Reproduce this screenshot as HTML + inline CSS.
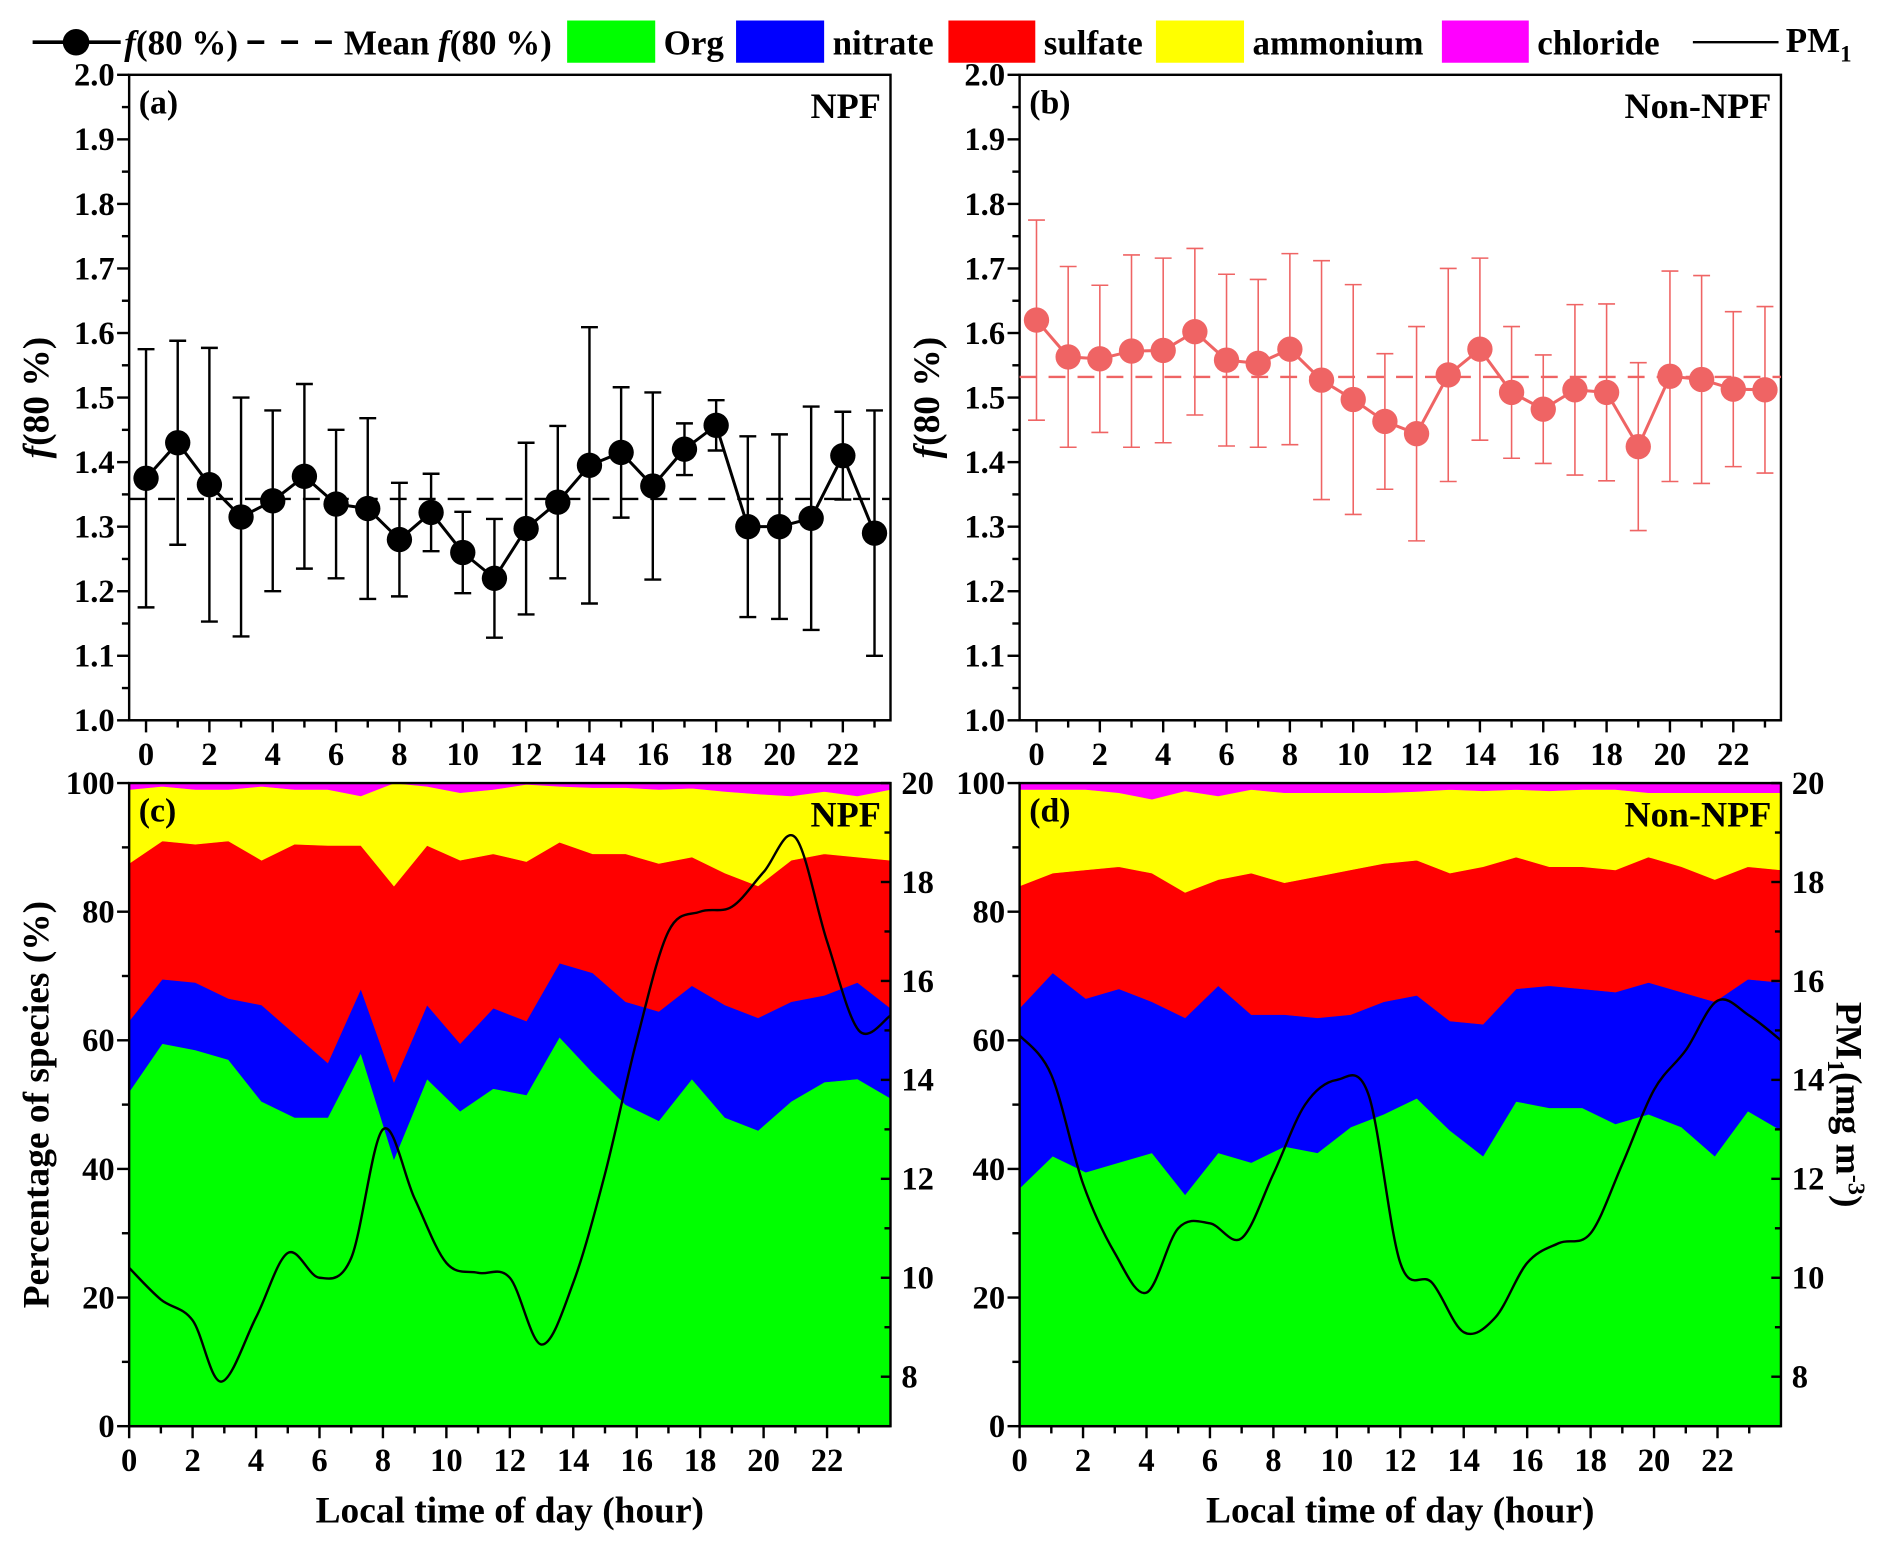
<!DOCTYPE html>
<html><head><meta charset="utf-8"><style>
html,body{margin:0;padding:0;background:#fff;}
svg{display:block;font-family:"Liberation Serif",serif;font-weight:bold;}
</style></head><body>
<svg id="fig" width="1892" height="1549" viewBox="0 0 1568 1283.8" xmlns="http://www.w3.org/2000/svg">
<g id="legend" font-size="29">
  <g>
    <line x1="27" y1="35" x2="100" y2="35" stroke="#000" stroke-width="3"/>
    <circle cx="63" cy="35" r="11" fill="#000"/>
    <text x="103" y="45"><tspan font-style="italic">f</tspan>(80 %)</text>
  </g>
  <g>
    <line x1="205" y1="35" x2="280" y2="35" stroke="#000" stroke-width="3" stroke-dasharray="14,14"/>
    <text x="285" y="45">Mean <tspan font-style="italic">f</tspan>(80 %)</text>
  </g>
  <g><rect x="470" y="17" width="73" height="35" fill="#00ff00"/><text x="550" y="45">Org</text></g>
  <g><rect x="610" y="17" width="73" height="35" fill="#0000ff"/><text x="690" y="45">nitrate</text></g>
  <g><rect x="786" y="17" width="72" height="35" fill="#ff0000"/><text x="865" y="45">sulfate</text></g>
  <g><rect x="958" y="17" width="73" height="35" fill="#ffff00"/><text x="1038" y="45">ammonium</text></g>
  <g><rect x="1195" y="17" width="72" height="35" fill="#ff00ff"/><text x="1274" y="45">chloride</text></g>
  <g><line x1="1403" y1="35" x2="1474" y2="35" stroke="#000" stroke-width="2"/><text x="1480" y="43">PM<tspan font-size="19" dy="8">1</tspan></text></g>
</g>
</svg>
<script>
// ---- data ----
const hours = [0,1,2,3,4,5,6,7,8,9,10,11,12,13,14,15,16,17,18,19,20,21,22,23];
const npfF80 = [1.375,1.43,1.365,1.315,1.34,1.378,1.335,1.328,1.28,1.322,1.26,1.22,1.297,1.338,1.395,1.415,1.363,1.42,1.457,1.30,1.30,1.313,1.41,1.29];
const npfErr = [0.20,0.158,0.212,0.185,0.14,0.143,0.115,0.14,0.088,0.06,0.063,0.092,0.133,0.118,0.214,0.101,0.145,0.04,0.039,0.14,0.143,0.173,0.068,0.19];
const npfMean = 1.343;
const nonF80 = [1.62,1.563,1.56,1.572,1.573,1.602,1.558,1.553,1.575,1.527,1.497,1.463,1.444,1.535,1.575,1.508,1.482,1.512,1.508,1.424,1.533,1.528,1.513,1.512];
const nonErr = [0.155,0.14,0.114,0.149,0.143,0.129,0.133,0.13,0.148,0.185,0.178,0.105,0.166,0.165,0.141,0.102,0.084,0.132,0.137,0.13,0.163,0.161,0.12,0.129];
const nonMean = 1.532;
// cumulative tops (%)
const npfOrg = [52,59.5,58.5,57,50.5,48,48,58,41.5,54,49,52.5,51.5,60.5,55,50,47.5,54,48,46,50.5,53.5,54,51];
const npfNit = [63,69.5,69,66.5,65.5,61,56.5,68,53.5,65.5,59.5,65,63,72,70.5,66,64.5,68.5,65.5,63.5,66,67,69,65];
const npfSul = [87.5,91,90.5,91,88,90.5,90.3,90.3,84,90.3,88,89,87.8,90.8,89,89,87.5,88.5,86,84,88,89,88.5,88];
const npfAmm = [99,99.5,99,99,99.5,99,99,98,100,99.5,98.5,99,99.8,99.5,99.3,99.3,99,99.2,98.7,98.3,98,98.7,98,99];
const nonOrg = [37,42,39.5,41,42.5,36,42.5,41,43.5,42.5,46.5,48.5,51,46,42,50.5,49.5,49.5,47,48.5,46.5,42,49,46];
const nonNit = [65,70.5,66.5,68,66,63.5,68.5,64,64,63.5,64,66,67,63,62.5,68,68.5,68,67.5,69,67.5,66,69.5,69];
const nonSul = [84,86,86.5,87,86,83,85,86,84.5,85.5,86.5,87.5,88,86,87,88.5,87,87,86.5,88.5,87,85,87,86.5];
const nonAmm = [99,99,99,98.5,97.5,98.8,98,99,98.5,98.5,98.5,98.5,98.7,99,98.8,99,98.8,99,99,98.5,98.5,98.5,98.5,98.5];
const pmHours = [0,1,2,2.9,4,5,6,7,8,9,10,11,12,13,14,15,16,17,18,19,20,21,22,23,24];
const npfPM = [10.2,9.56,9.14,7.9,9.2,10.5,10.0,10.4,13.0,11.6,10.3,10.1,10.0,8.65,9.9,12.1,14.8,17.0,17.4,17.5,18.2,18.9,16.8,15.0,15.3];
const nonPMHours = [0,1,2,3,4,5,6,7,8,9,10,11,12,13,14,15,16,17,18,19,20,21,22,23,24];
const nonPM = [14.9,14.1,11.9,10.5,9.7,11.0,11.1,10.8,12.1,13.5,14.0,13.7,10.3,9.9,8.9,9.2,10.3,10.7,10.9,12.3,13.8,14.6,15.6,15.3,14.8];
const xTicks = [0,2,4,6,8,10,12,14,16,18,20,22];
const fTicks = [1.0,1.1,1.2,1.3,1.4,1.5,1.6,1.7,1.8,1.9,2.0];
const pctTicks = [0,20,40,60,80,100];
const pmTicks = [8,10,12,14,16,18,20];

const NS="http://www.w3.org/2000/svg";
const svg=document.getElementById('fig');
function el(tag,attrs,parent,txt){const e=document.createElementNS(NS,tag);for(const k in attrs)e.setAttribute(k,attrs[k]);if(txt!==undefined)e.textContent=txt;(parent||svg).appendChild(e);return e;}

function smoothPath(pts){
  let d=`M${pts[0][0]},${pts[0][1]}`;
  for(let i=0;i<pts.length-1;i++){
    const p0=pts[Math.max(0,i-1)],p1=pts[i],p2=pts[i+1],p3=pts[Math.min(pts.length-1,i+2)];
    const c1=[p1[0]+(p2[0]-p0[0])/6,p1[1]+(p2[1]-p0[1])/6];
    const c2=[p2[0]-(p3[0]-p1[0])/6,p2[1]-(p3[1]-p1[1])/6];
    d+=` C${c1[0]},${c1[1]} ${c2[0]},${c2[1]} ${p2[0]},${p2[1]}`;
  }
  return d;
}

function xAxis(g,L,R,B,xs){
  el('line',{x1:L,y1:B,x2:R,y2:B,stroke:'#000','stroke-width':2},g);
  for(let h=0;h<=23;h++){
    const major=h%2===0;
    const t=el('line',{x1:xs(h),y1:B,x2:xs(h),y2:B+(major?10:6),stroke:'#000','stroke-width':2},g);
    
    
  }
  xTicks.forEach(h=>{
    const t=el('text',{x:xs(h),y:B+37,'text-anchor':'middle','font-size':27},g,String(h));
    
    
  });
}

function fPanel(name,L,R,T,B,vals,errs,mean,color,lab,tag,titleX){
  const g=el('g',{});
  
  
  const xs=h=>L+14+h*(R-L-14*2+ (R-L)/24*0)/23.5;
  const xsT=h=>L+14+h*26.25;
  const ys=v=>B-(v-1.0)*(B-T);
  el('rect',{x:L,y:T,width:R-L,height:B-T,fill:'none',stroke:'#000','stroke-width':2},g);
  xAxis(g,L,R,B,xsT);
  for(let i=0;i<=20;i++){const v=1+i*0.05;const major=i%2===0;
    el('line',{x1:L,y1:ys(v),x2:L-(major?10:6),y2:ys(v),stroke:'#000','stroke-width':2},g);}
  fTicks.forEach(v=>{const t=el('text',{x:L-12,y:ys(v)+9,'text-anchor':'end','font-size':27},g,v.toFixed(1));
    });
  const ml=el('line',{x1:L,y1:ys(mean),x2:R,y2:ys(mean),stroke:color,'stroke-width':2,'stroke-dasharray':'14,10'},g);
  
  const ew=color==='#000'?2:1.3;
  hours.forEach((h,i)=>{
    const x=xsT(h);
    el('line',{x1:x,y1:ys(vals[i]-errs[i]),x2:x,y2:ys(vals[i]+errs[i]),stroke:color,'stroke-width':ew},g);
    el('line',{x1:x-7,y1:ys(vals[i]-errs[i]),x2:x+7,y2:ys(vals[i]-errs[i]),stroke:color,'stroke-width':ew},g);
    el('line',{x1:x-7,y1:ys(vals[i]+errs[i]),x2:x+7,y2:ys(vals[i]+errs[i]),stroke:color,'stroke-width':ew},g);
  });
  el('polyline',{points:hours.map((h,i)=>`${xsT(h)},${ys(vals[i])}`).join(' '),fill:'none',stroke:color,'stroke-width':2.5},g);
  hours.forEach((h,i)=>{
    const c=el('circle',{cx:xsT(h),cy:ys(vals[i]),r:10.5,fill:color},g);
    
    
  });
  el('text',{x:L+8,y:T+32,'font-size':28},g,lab);
  el('text',{x:R-8,y:T+36,'text-anchor':'end','font-size':30},g,tag);
  const yt=el('text',{transform:`translate(${titleX},${(T+B)/2}) rotate(-90)`,'text-anchor':'middle','font-size':31},g);
  
  el('tspan',{'font-style':'italic'},yt,'f');el('tspan',{},yt,'(80 %)');
}

function areaPanel(name,L,R,T,B,org,nit,sul,amm,ph,pm,lab,tag,showLeftTitle,showRightTitle){
  const g=el('g',{});
  
  
  const xa=i=>L+i*(R-L)/23;
  const xsT=h=>L+h*(R-L)/24;
  const ys=v=>B-v/100*(B-T);
  const yr=v=>T+(20-v)*(B-T)/13;
  const layers=[[null,org,'#00ff00','area-org'],[org,nit,'#0000ff','area-nitrate'],[nit,sul,'#ff0000','area-sulfate'],[sul,amm,'#ffff00','area-ammonium'],[amm,'top','#ff00ff','area-chloride']];
  layers.forEach(([lo,hi,c,n])=>{
    const top=hi==='top'?hours.map(()=>100):hi;
    const bot=lo?lo:hours.map(()=>0);
    let pts=hours.map((h,i)=>`${xa(i)},${ys(top[i])}`);
    for(let i=hours.length-1;i>=0;i--)pts.push(`${xa(i)},${ys(bot[i])}`);
    const p=el('polygon',{points:pts.join(' '),fill:c,stroke:c,'stroke-width':0.5},g);
    
    
  });
  const line=el('path',{d:smoothPath(ph.map((h,i)=>[xsT(h),yr(pm[i])])),fill:'none',stroke:'#000','stroke-width':2},g);
  
  
  el('rect',{x:L,y:T,width:R-L,height:B-T,fill:'none',stroke:'#000','stroke-width':2},g);
  xAxis(g,L,R,B,xsT);
  for(let v=0;v<=100;v+=10){el('line',{x1:L,y1:ys(v),x2:L-(v%20===0?10:6),y2:ys(v),stroke:'#000','stroke-width':2},g);}
  pctTicks.forEach(v=>{const t=el('text',{x:L-12,y:ys(v)+9,'text-anchor':'end','font-size':27},g,String(v));
    });
  for(let v=8;v<=20;v++){el('line',{x1:R,y1:yr(v),x2:R-(v%2===0?8:5),y2:yr(v),stroke:'#000','stroke-width':2},g);}
  pmTicks.forEach(v=>{const t=el('text',{x:R+9,y:yr(v)+9,'font-size':27},g,String(v));
    });
  el('text',{x:L+8,y:T+32,'font-size':28},g,lab);
  el('text',{x:R-8,y:T+36,'text-anchor':'end','font-size':30},g,tag);
  const xt=el('text',{x:(L+R)/2-0,y:B+80,'text-anchor':'middle','font-size':31},g,'Local time of day (hour)');
  
  if(showLeftTitle){const t=el('text',{transform:`translate(40,${(T+B)/2}) rotate(-90)`,'text-anchor':'middle','font-size':31},g,'Percentage of species (%)');
    }
  if(showRightTitle){const t=el('text',{transform:`translate(1522,${(T+B)/2}) rotate(90)`,'text-anchor':'middle','font-size':31},g);
    
    el('tspan',{},t,'PM');el('tspan',{'font-size':20,dy:7},t,'1');el('tspan',{dy:-7},t,'(mg m');el('tspan',{'font-size':20,dy:-10},t,'-3');el('tspan',{dy:10},t,')');}
}

fPanel('panel-a-npf',107,738,62,597,npfF80,npfErr,npfMean,'#000','(a)','NPF',40);
fPanel('panel-b-non-npf',845,1476,62,597,nonF80,nonErr,nonMean,'#ef6464','(b)','Non-NPF',778);
areaPanel('panel-c-npf',107,738,649,1182,npfOrg,npfNit,npfSul,npfAmm,pmHours,npfPM,'(c)','NPF',true,false);
areaPanel('panel-d-non-npf',845,1476,649,1182,nonOrg,nonNit,nonSul,nonAmm,nonPMHours,nonPM,'(d)','Non-NPF',false,true);
</script>
</body></html>
